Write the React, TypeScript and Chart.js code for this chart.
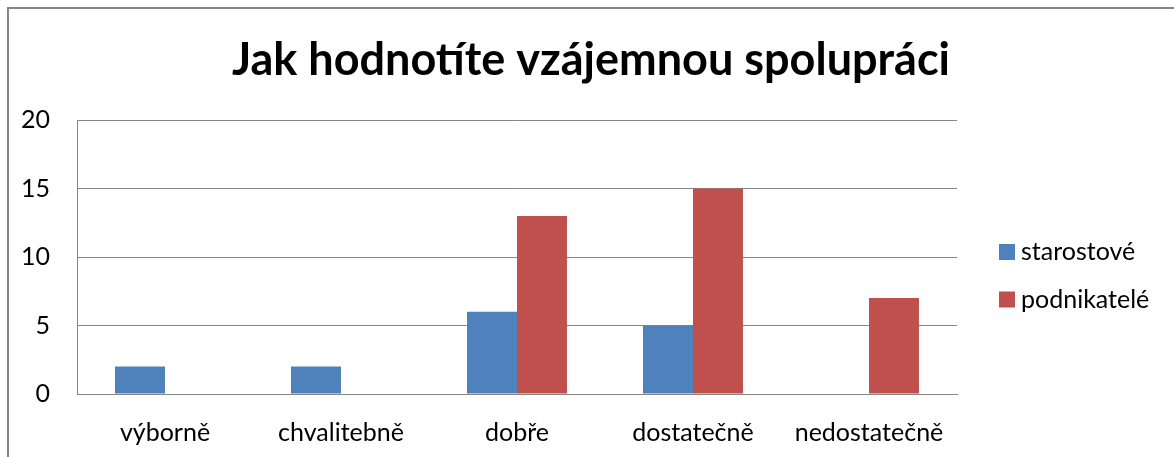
import React, { useEffect, useRef } from "react";
import { Chart, registerables } from "chart.js";

Chart.register(...registerables);

const categories: string[] = ["výborně", "chvalitebně", "dobře", "dostatečně", "nedostatečně"];
const starostove: number[] = [2, 2, 6, 5, 0];
const podnikatele: number[] = [0, 0, 13, 15, 7];
const seriesNames: string[] = ["starostové", "podnikatelé"];
const titleText = "Jak hodnotíte vzájemnou spolupráci";
const yMin = 0;
const yMax = 20;
const yStep = 5;

const FONT = "Lato, 'Open Sans', sans-serif";
const GRID = "#868686";

const framePlugin = {
  id: "frame",
  beforeDraw(chart: any) {
    const ctx = chart.ctx;
    ctx.save();
    ctx.fillStyle = "#ffffff";
    ctx.fillRect(0, 0, chart.width, chart.height);
    ctx.fillStyle = GRID;
    ctx.fillRect(7, 7, chart.width - 7, 2);
    ctx.fillRect(7, 7, 2, chart.height - 7);
    ctx.restore();
  },
};

const titlePlugin = {
  id: "customTitle",
  afterDraw(chart: any) {
    const ctx = chart.ctx;
    ctx.save();
    ctx.font = `bold 45px ${FONT}`;
    ctx.textBaseline = "middle";
    ctx.textAlign = "center";
    ctx.fillStyle = "#000000";
    ctx.fillText(titleText, 591, 60);
    ctx.restore();
  },
};

const legendPlugin = {
  id: "customLegend",
  afterDraw(chart: any) {
    const ctx = chart.ctx;
    ctx.save();
    ctx.font = `25px ${FONT}`;
    ctx.textBaseline = "middle";
    ctx.textAlign = "left";
    chart.data.datasets.forEach((ds: any, i: number) => {
      const cy = 252 + i * 47.5;
      ctx.fillStyle = ds.backgroundColor;
      ctx.fillRect(999, cy - 8, 16, 16);
      ctx.fillStyle = "#000000";
      ctx.fillText(ds.label, 1021, cy);
    });
    ctx.restore();
  },
};

export default function App() {
  const ref = useRef<HTMLCanvasElement | null>(null);

  useEffect(() => {
    if (!ref.current) return;
    const chart = new Chart(ref.current, {
      type: "bar",
      data: {
        labels: categories,
        datasets: [
          {
            label: seriesNames[0],
            data: starostove,
            backgroundColor: "#4F81BD",
            borderWidth: 0,
          },
          {
            label: seriesNames[1],
            data: podnikatele,
            backgroundColor: "#C0504D",
            borderWidth: 0,
          },
        ],
      },
      options: {
        responsive: false,
        animation: false,
        layout: { padding: { left: 0, right: 217, top: 120, bottom: 0 } },
        datasets: {
          bar: { categoryPercentage: 0.568, barPercentage: 1 },
        },
        plugins: {
          legend: { display: false },
          tooltip: { enabled: false },
          title: { display: false },
        },
        scales: {
          x: {
            grid: { display: false, drawTicks: false },
            border: { display: true, color: GRID, width: 1 },
            ticks: {
              color: "#000000",
              font: { family: FONT, size: 25 },
              padding: 24,
              maxRotation: 0,
              autoSkip: false,
            },
            afterFit(scale: any) {
              scale.height = 63;
            },
          },
          y: {
            min: yMin,
            max: yMax,
            grid: { color: GRID, lineWidth: 1, drawTicks: false },
            border: { display: true, color: GRID, width: 1 },
            ticks: {
              stepSize: yStep,
              color: "#000000",
              font: { family: FONT, size: 25 },
              padding: 27,
            },
            afterFit(scale: any) {
              scale.width = 77;
            },
          },
        },
      },
      plugins: [framePlugin, titlePlugin, legendPlugin],
    });
    return () => chart.destroy();
  }, []);

  return (
    <div style={{ position: "absolute", left: 0, top: 0, width: 1174, height: 457, overflow: "hidden" }}>
      <canvas ref={ref} width={1174} height={457} style={{ display: "block" }} />
    </div>
  );
}
